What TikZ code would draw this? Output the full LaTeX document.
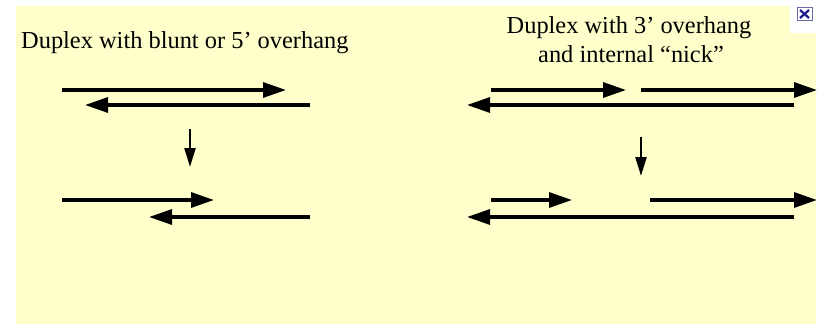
\documentclass[tikz,border=0pt]{standalone}
\usepackage{fontspec}
\setmainfont{Liberation Serif}
\usetikzlibrary{arrows.meta}
\definecolor{bgyellow}{HTML}{FFFFCC}
\definecolor{iconblue}{HTML}{1A1A8C}
\definecolor{iconframe}{HTML}{6A6AAA}
\tikzset{
  strand/.style={line width=3.2pt, -{Triangle[length=23pt,width=15pt]}},
  turn/.style={line width=2.4pt, -{Triangle[length=19pt,width=11pt]}},
  title/.style={font=\fontsize{24.4}{29}\selectfont, inner sep=0pt, anchor=base}
}
\begin{document}
\begin{tikzpicture}[x=1pt,y=-1pt]
\useasboundingbox (0,0) rectangle (823,324);
\fill[white] (0,0) rectangle (823,324);
\fill[bgyellow] (16,6) rectangle (816,324);
\fill[white] (790,0) rectangle (816,33);
% broken image icon
\node[draw=iconframe, fill=white, line width=1pt, minimum width=15pt, minimum height=13pt, inner sep=0pt] (icon) at (804.5,14) {};
\draw[iconblue, line width=2.2pt] ([shift={(3.5,-3)}]icon.south west) -- ([shift={(-3.5,3)}]icon.north east);
\draw[iconblue, line width=2.2pt] ([shift={(3.5,3)}]icon.north west) -- ([shift={(-3.5,-3)}]icon.south east);
% titles
\node[title, anchor=base west] (t1) at (21,48) {Duplex with blunt or 5’ overhang};
\node[title] (t2a) at (629,33) {Duplex with 3’ overhang};
\node[title] (t2b) at (631,62) {and internal “nick”};
% left panel coordinates
\coordinate (a1s) at (62,90);  \coordinate (a1e) at (286,90);
\coordinate (a2s) at (310,105); \coordinate (a2e) at (85,105);
\coordinate (d1s) at (190,129); \coordinate (d1e) at (190,167);
\coordinate (a3s) at (62,200); \coordinate (a3e) at (214,200);
\coordinate (a4s) at (310,217); \coordinate (a4e) at (149,217);
\draw[strand] (a1s) -- (a1e);
\draw[strand] (a2s) -- (a2e);
\draw[turn] (d1s) -- (d1e);
\draw[strand] (a3s) -- (a3e);
\draw[strand] (a4s) -- (a4e);
% right panel coordinates
\coordinate (b1s) at (491,90); \coordinate (b1e) at (626,90);
\coordinate (b2s) at (641,90); \coordinate (b2e) at (817,90);
\coordinate (b3s) at (794,105); \coordinate (b3e) at (467,105);
\coordinate (d2s) at (641,137); \coordinate (d2e) at (641,176);
\coordinate (b4s) at (491,200); \coordinate (b4e) at (572,200);
\coordinate (b5s) at (650,200); \coordinate (b5e) at (817,200);
\coordinate (b6s) at (794,217); \coordinate (b6e) at (467,217);
\draw[strand] (b1s) -- (b1e);
\draw[strand] (b2s) -- (b2e);
\draw[strand] (b3s) -- (b3e);
\draw[turn] (d2s) -- (d2e);
\draw[strand] (b4s) -- (b4e);
\draw[strand] (b5s) -- (b5e);
\draw[strand] (b6s) -- (b6e);
\end{tikzpicture}
\end{document}
